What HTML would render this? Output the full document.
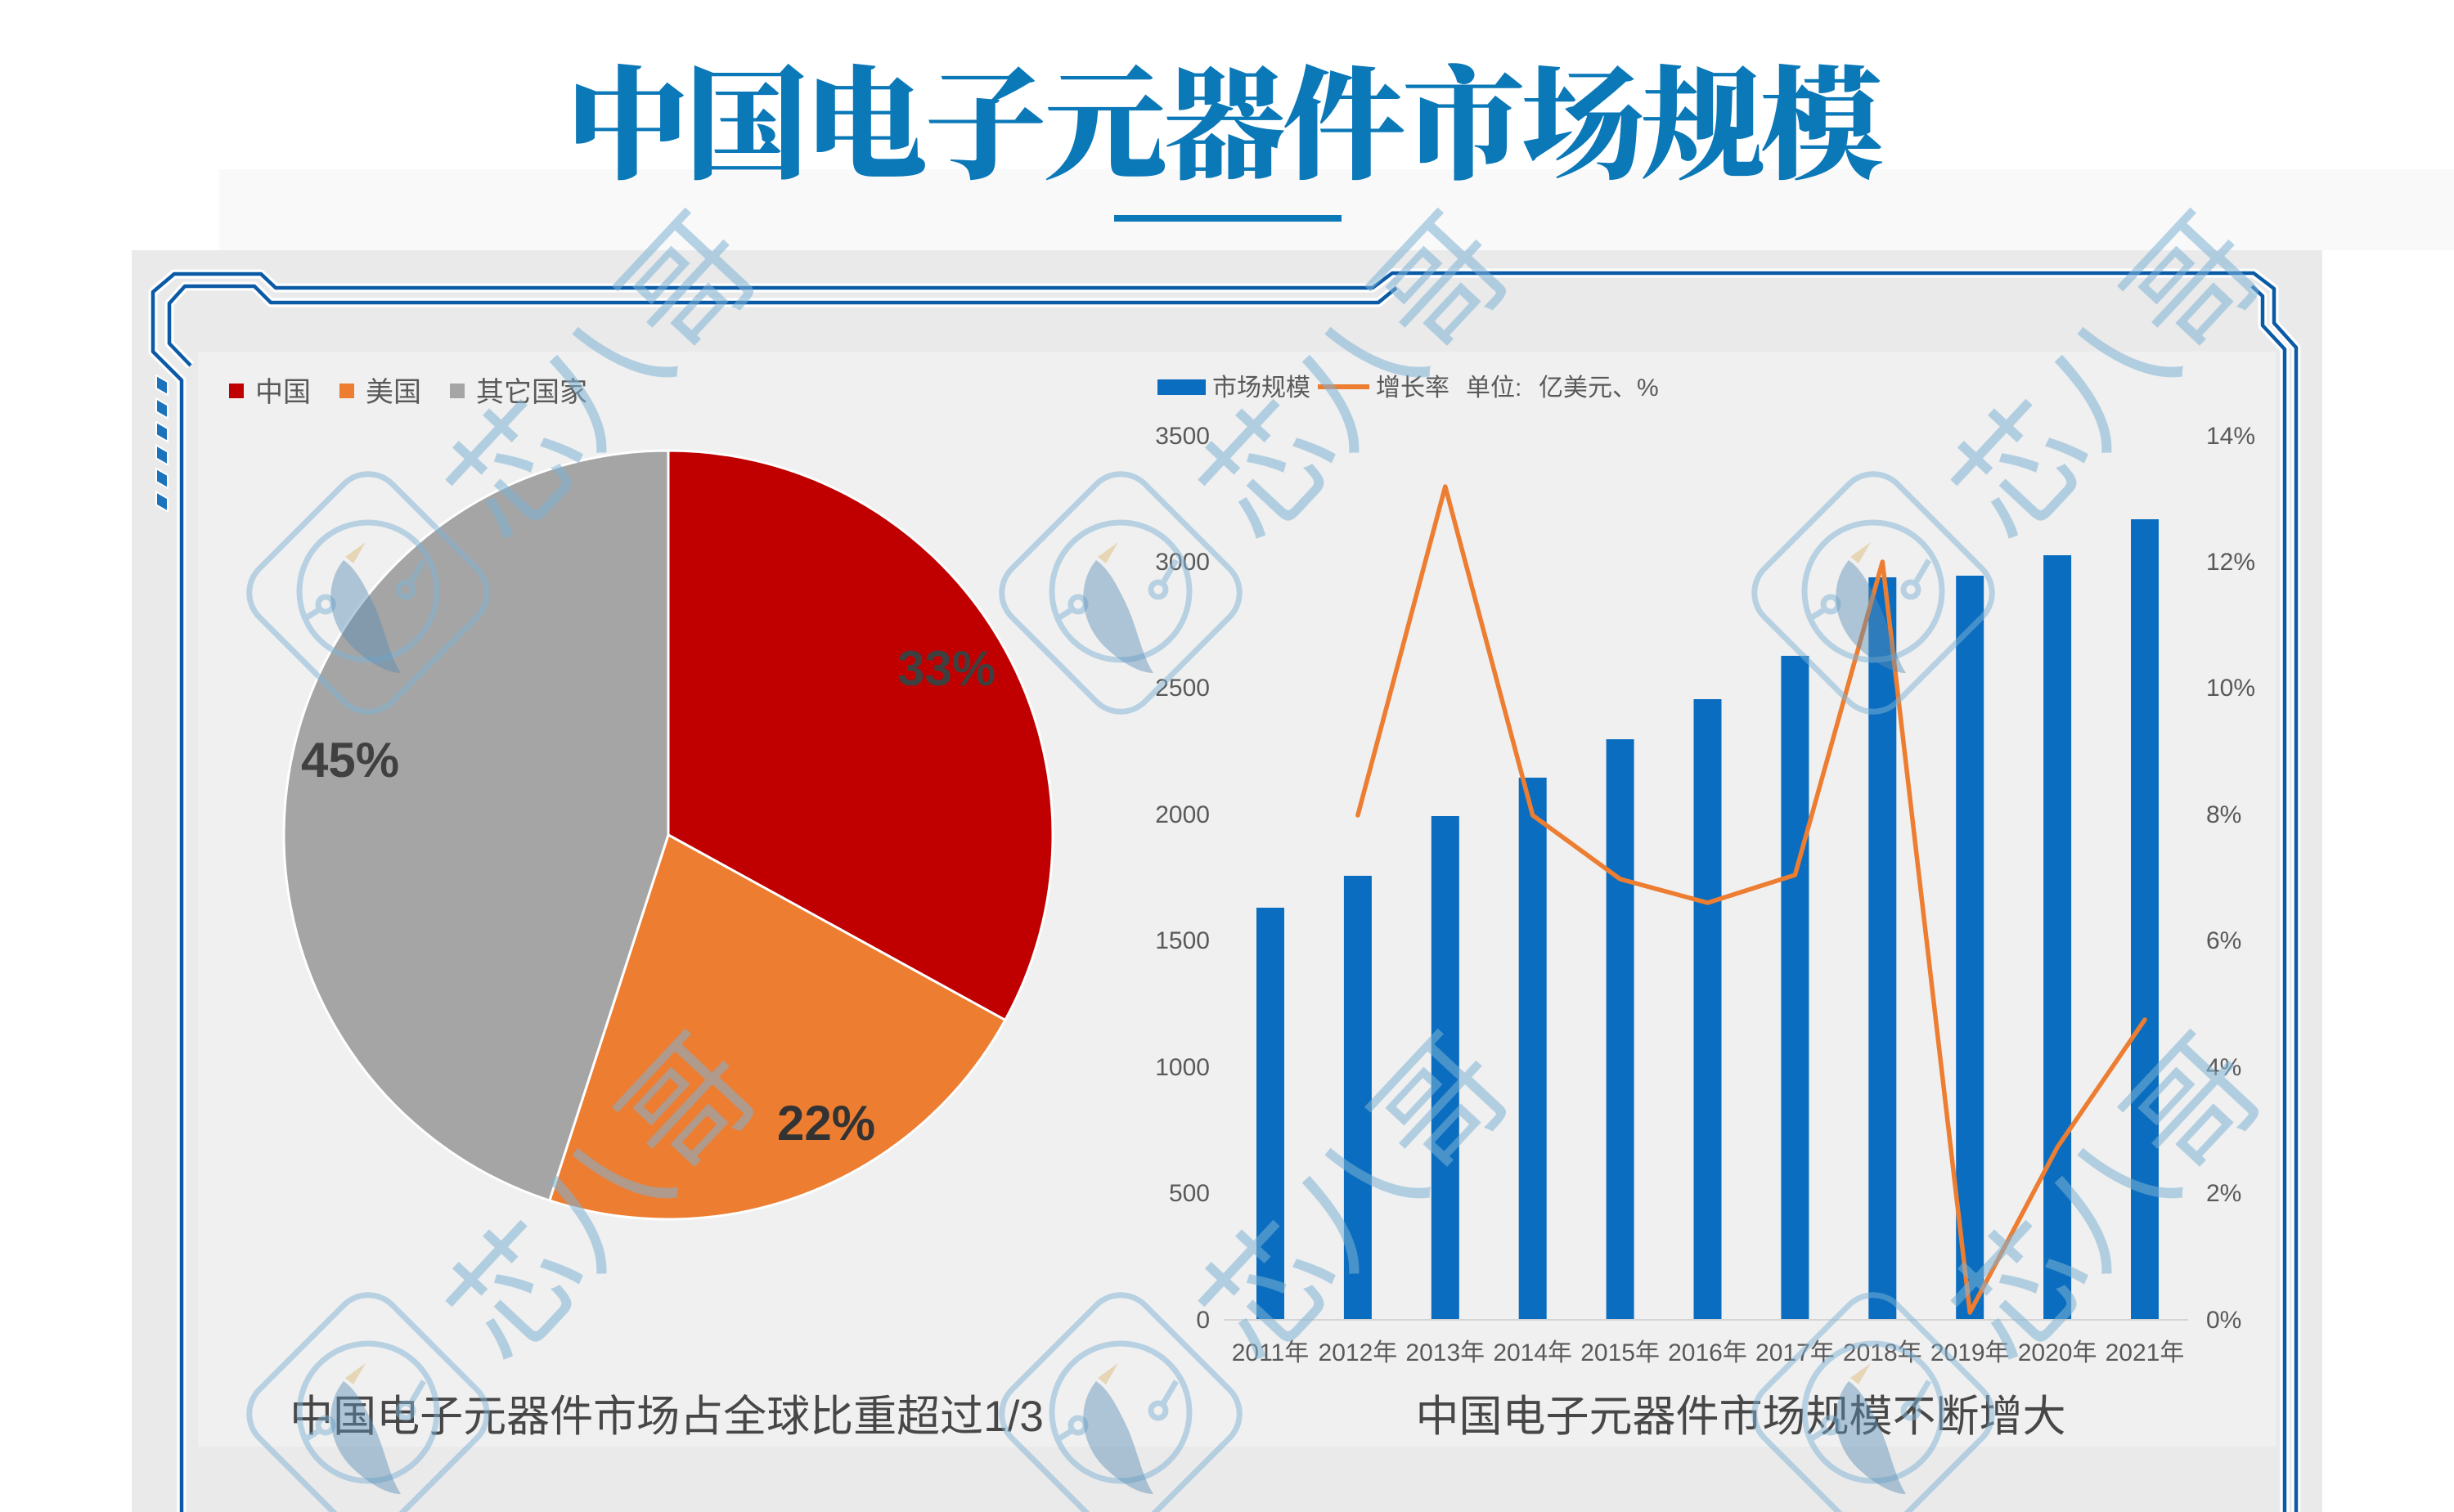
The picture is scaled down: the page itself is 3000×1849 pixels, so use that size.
<!DOCTYPE html>
<html>
<head>
<meta charset="utf-8">
<style>
html,body{margin:0;padding:0;background:#ffffff;}
body{width:3000px;height:1849px;overflow:hidden;}
svg{display:block;}
.cjk{font-family:"Liberation Sans","Noto Sans CJK SC",sans-serif;}
</style>
</head>
<body>
<svg width="3000" height="1849" viewBox="0 0 3000 1849" xmlns="http://www.w3.org/2000/svg">
  <!-- backgrounds -->
  <rect x="0" y="0" width="3000" height="1849" fill="#ffffff"/>
  <rect x="268" y="207" width="2732" height="99" fill="#f9f9f9"/>
  <rect x="161" y="306" width="2678" height="1543" fill="#eaeaea"/>
  <rect x="242" y="430" width="2540" height="1339" fill="#f0f0f0"/>

  <!-- title -->
  <text x="1495" y="206" text-anchor="middle" font-family="'Noto Serif CJK SC','Liberation Serif',serif" font-weight="900" font-size="150" letter-spacing="-4" fill="#0b78b8">中国电子元器件市场规模</text>
  <rect x="1362" y="263" width="278" height="8" fill="#0b78b8"/>

  <!-- frame lines: white halo -->
  <g fill="none" stroke="#ffffff" stroke-width="11" stroke-linejoin="round">
    <path d="M222,1849 L222,465 L187,430 L187,357 L213,335 L319,335 L337,352 L1678,352 L1702,334 L2755,334 L2780,353 L2780,395 L2807,425 L2807,1849"/>
    <path d="M233,447 L207,420 L207,371 L226,350 L311,350 L331,370 L1685,370 L1707,352"/>
    <path d="M2753,350 L2766,362 L2766,398 L2793,427 L2793,1849"/>
  </g>
  <g fill="none" stroke="#0b5aa6" stroke-width="4.5" stroke-linejoin="round">
    <path d="M222,1849 L222,465 L187,430 L187,357 L213,335 L319,335 L337,352 L1678,352 L1702,334 L2755,334 L2780,353 L2780,395 L2807,425 L2807,1849"/>
    <path d="M233,447 L207,420 L207,371 L226,350 L311,350 L331,370 L1685,370 L1707,352"/>
    <path d="M2753,350 L2766,362 L2766,398 L2793,427 L2793,1849"/>
  </g>
  <!-- left stripes -->
  <g fill="#1b74bb" stroke="#ffffff" stroke-width="2">
    <polygon points="191,459 205,467 205,483 191,475"/>
    <polygon points="191,487.5 205,495.5 205,511.5 191,503.5"/>
    <polygon points="191,516 205,524 205,540 191,532"/>
    <polygon points="191,544.5 205,552.5 205,568.5 191,560.5"/>
    <polygon points="191,573 205,581 205,597 191,589"/>
    <polygon points="191,601.5 205,609.5 205,625.5 191,617.5"/>
  </g>

  <!-- PIE legend -->
  <g class="cjk" font-size="34" fill="#595959">
    <rect x="280" y="469" width="18" height="18" fill="#c00000"/>
    <text x="312" y="491">中国</text>
    <rect x="415" y="469" width="18" height="18" fill="#ed7d31"/>
    <text x="447" y="491">美国</text>
    <rect x="550" y="469" width="18" height="18" fill="#a5a5a5"/>
    <text x="582" y="491">其它国家</text>
  </g>

  <!-- PIE -->
  <g stroke="#ffffff" stroke-width="3" stroke-linejoin="round">
    <path d="M817,1021 L817,551 A470,470 0 0 1 1228.9,1247.4 Z" fill="#c00000"/>
    <path d="M817,1021 L1228.9,1247.4 A470,470 0 0 1 671.8,1468 Z" fill="#ed7d31"/>
    <path d="M817,1021 L671.8,1468 A470,470 0 0 1 817,551 Z" fill="#a5a5a5"/>
  </g>
  <g font-family="'Liberation Sans',sans-serif" font-weight="bold" font-size="60" text-anchor="middle">
    <text x="1157" y="838" fill="#3f3f3f">33%</text>
    <text x="428" y="950" fill="#404040">45%</text>
    <text x="1010" y="1394" fill="#333333">22%</text>
  </g>

  <!-- BAR chart legend -->
  <g class="cjk" font-size="30" fill="#595959">
    <rect x="1415" y="464" width="59" height="19" fill="#0a6dbf"/>
    <text x="1482" y="484">市场规模</text>
    <line x1="1611" y1="473" x2="1674" y2="473" stroke="#ed7d31" stroke-width="6"/>
    <text x="1682" y="484">增长率</text>
    <text x="1792" y="484">单位:</text>
    <text x="1881" y="484">亿美元、%</text>
  </g>

  <!-- left axis labels -->
  <g font-family="'Liberation Sans',sans-serif" font-size="30" fill="#595959" text-anchor="end">
    <text x="1479" y="1624">0</text>
    <text x="1479" y="1469">500</text>
    <text x="1479" y="1315">1000</text>
    <text x="1479" y="1160">1500</text>
    <text x="1479" y="1006">2000</text>
    <text x="1479" y="851">2500</text>
    <text x="1479" y="697">3000</text>
    <text x="1479" y="543">3500</text>
  </g>
  <!-- right axis labels -->
  <g font-family="'Liberation Sans',sans-serif" font-size="30" fill="#595959" text-anchor="start">
    <text x="2697" y="1624">0%</text>
    <text x="2697" y="1469">2%</text>
    <text x="2697" y="1315">4%</text>
    <text x="2697" y="1160">6%</text>
    <text x="2697" y="1006">8%</text>
    <text x="2697" y="851">10%</text>
    <text x="2697" y="697">12%</text>
    <text x="2697" y="543">14%</text>
  </g>

  <!-- axis line -->
  <line x1="1496" y1="1614" x2="2675" y2="1614" stroke="#d4d4d4" stroke-width="2"/>

  <!-- bars -->
  <g fill="#0a6dbf">
    <rect x="1536" y="1110" width="34" height="503"/>
    <rect x="1642.9" y="1071" width="34" height="542"/>
    <rect x="1749.8" y="998" width="34" height="615"/>
    <rect x="1856.7" y="951" width="34" height="662"/>
    <rect x="1963.6" y="904" width="34" height="709"/>
    <rect x="2070.5" y="855" width="34" height="758"/>
    <rect x="2177.4" y="802" width="34" height="811"/>
    <rect x="2284.3" y="706" width="34" height="907"/>
    <rect x="2391.2" y="704" width="34" height="909"/>
    <rect x="2498.1" y="679" width="34" height="934"/>
    <rect x="2605" y="635" width="34" height="978"/>
  </g>

  <!-- growth line -->
  <polyline fill="none" stroke="#ed7d31" stroke-width="5.5" stroke-linejoin="round" stroke-linecap="round"
    points="1659.9,997 1766.8,595 1873.7,997 1980.6,1075 2087.5,1104 2194.4,1070 2301.3,687 2408.2,1605 2515.1,1403 2622,1247"/>

  <!-- x labels -->
  <g class="cjk" font-size="30" fill="#595959" text-anchor="middle">
    <text x="1553" y="1664">2011年</text>
    <text x="1659.9" y="1664">2012年</text>
    <text x="1766.8" y="1664">2013年</text>
    <text x="1873.7" y="1664">2014年</text>
    <text x="1980.6" y="1664">2015年</text>
    <text x="2087.5" y="1664">2016年</text>
    <text x="2194.4" y="1664">2017年</text>
    <text x="2301.3" y="1664">2018年</text>
    <text x="2408.2" y="1664">2019年</text>
    <text x="2515.1" y="1664">2020年</text>
    <text x="2622" y="1664">2021年</text>
  </g>

  <!-- captions -->
  <g class="cjk" font-size="53" fill="#474747" text-anchor="middle">
    <text x="815" y="1750">中国电子元器件市场占全球比重超过1/3</text>
    <text x="2128" y="1750">中国电子元器件市场规模不断增大</text>
  </g>

  <!-- watermarks: logos -->
  <g id="logo1" transform="translate(450,725)">
    <g fill="none" stroke="#7fb3d5" stroke-width="7" opacity="0.5">
      <rect x="-115" y="-115" width="230" height="230" rx="42" transform="rotate(45)"/>
      <circle cx="0" cy="-2" r="84"/>
      <circle cx="-52" cy="14" r="9"/><line x1="-59" y1="20" x2="-78" y2="32"/>
      <circle cx="46" cy="-4" r="9"/><line x1="51" y1="-11" x2="68" y2="-40"/>
    </g>
    <path d="M-30,-40 C-55,-10 -50,40 -15,70 C5,88 25,98 40,98 C25,75 20,40 5,10 C-5,-10 -15,-30 -30,-40 Z" fill="#5a8fb5" opacity="0.45"/>
    <path d="M-28,-44 L-3,-62 L-18,-36 Z" fill="#e3cfa8" opacity="0.8"/>
  </g>
  <g transform="translate(1370,725)">
    <g fill="none" stroke="#7fb3d5" stroke-width="7" opacity="0.5">
      <rect x="-115" y="-115" width="230" height="230" rx="42" transform="rotate(45)"/>
      <circle cx="0" cy="-2" r="84"/>
      <circle cx="-52" cy="14" r="9"/><line x1="-59" y1="20" x2="-78" y2="32"/>
      <circle cx="46" cy="-4" r="9"/><line x1="51" y1="-11" x2="68" y2="-40"/>
    </g>
    <path d="M-30,-40 C-55,-10 -50,40 -15,70 C5,88 25,98 40,98 C25,75 20,40 5,10 C-5,-10 -15,-30 -30,-40 Z" fill="#5a8fb5" opacity="0.45"/>
    <path d="M-28,-44 L-3,-62 L-18,-36 Z" fill="#e3cfa8" opacity="0.8"/>
  </g>
  <g transform="translate(2290,725)">
    <g fill="none" stroke="#7fb3d5" stroke-width="7" opacity="0.5">
      <rect x="-115" y="-115" width="230" height="230" rx="42" transform="rotate(45)"/>
      <circle cx="0" cy="-2" r="84"/>
      <circle cx="-52" cy="14" r="9"/><line x1="-59" y1="20" x2="-78" y2="32"/>
      <circle cx="46" cy="-4" r="9"/><line x1="51" y1="-11" x2="68" y2="-40"/>
    </g>
    <path d="M-30,-40 C-55,-10 -50,40 -15,70 C5,88 25,98 40,98 C25,75 20,40 5,10 C-5,-10 -15,-30 -30,-40 Z" fill="#5a8fb5" opacity="0.45"/>
    <path d="M-28,-44 L-3,-62 L-18,-36 Z" fill="#e3cfa8" opacity="0.8"/>
  </g>
  <g transform="translate(450,1729)">
    <g fill="none" stroke="#7fb3d5" stroke-width="7" opacity="0.5">
      <rect x="-115" y="-115" width="230" height="230" rx="42" transform="rotate(45)"/>
      <circle cx="0" cy="-2" r="84"/>
      <circle cx="-52" cy="14" r="9"/><line x1="-59" y1="20" x2="-78" y2="32"/>
      <circle cx="46" cy="-4" r="9"/><line x1="51" y1="-11" x2="68" y2="-40"/>
    </g>
    <path d="M-30,-40 C-55,-10 -50,40 -15,70 C5,88 25,98 40,98 C25,75 20,40 5,10 C-5,-10 -15,-30 -30,-40 Z" fill="#5a8fb5" opacity="0.45"/>
    <path d="M-28,-44 L-3,-62 L-18,-36 Z" fill="#e3cfa8" opacity="0.8"/>
  </g>
  <g transform="translate(1370,1729)">
    <g fill="none" stroke="#7fb3d5" stroke-width="7" opacity="0.5">
      <rect x="-115" y="-115" width="230" height="230" rx="42" transform="rotate(45)"/>
      <circle cx="0" cy="-2" r="84"/>
      <circle cx="-52" cy="14" r="9"/><line x1="-59" y1="20" x2="-78" y2="32"/>
      <circle cx="46" cy="-4" r="9"/><line x1="51" y1="-11" x2="68" y2="-40"/>
    </g>
    <path d="M-30,-40 C-55,-10 -50,40 -15,70 C5,88 25,98 40,98 C25,75 20,40 5,10 C-5,-10 -15,-30 -30,-40 Z" fill="#5a8fb5" opacity="0.45"/>
    <path d="M-28,-44 L-3,-62 L-18,-36 Z" fill="#e3cfa8" opacity="0.8"/>
  </g>
  <g transform="translate(2290,1729)">
    <g fill="none" stroke="#7fb3d5" stroke-width="7" opacity="0.5">
      <rect x="-115" y="-115" width="230" height="230" rx="42" transform="rotate(45)"/>
      <circle cx="0" cy="-2" r="84"/>
      <circle cx="-52" cy="14" r="9"/><line x1="-59" y1="20" x2="-78" y2="32"/>
      <circle cx="46" cy="-4" r="9"/><line x1="51" y1="-11" x2="68" y2="-40"/>
    </g>
    <path d="M-30,-40 C-55,-10 -50,40 -15,70 C5,88 25,98 40,98 C25,75 20,40 5,10 C-5,-10 -15,-30 -30,-40 Z" fill="#5a8fb5" opacity="0.45"/>
    <path d="M-28,-44 L-3,-62 L-18,-36 Z" fill="#e3cfa8" opacity="0.8"/>
  </g>

  <!-- watermarks: text -->
  <g font-family="'Liberation Sans','Noto Sans CJK SC',sans-serif" font-weight="normal" font-size="155" fill="#7fb3d5" opacity="0.55" text-anchor="middle">
    <text x="0" y="54" transform="translate(737,462) rotate(-47)">芯八哥</text>
    <text x="0" y="54" transform="translate(1657,462) rotate(-47)">芯八哥</text>
    <text x="0" y="54" transform="translate(2577,462) rotate(-47)">芯八哥</text>
    <text x="0" y="54" transform="translate(737,1466) rotate(-47)">芯八哥</text>
    <text x="0" y="54" transform="translate(1657,1466) rotate(-47)">芯八哥</text>
    <text x="0" y="54" transform="translate(2577,1466) rotate(-47)">芯八哥</text>
  </g>
</svg>
</body>
</html>
